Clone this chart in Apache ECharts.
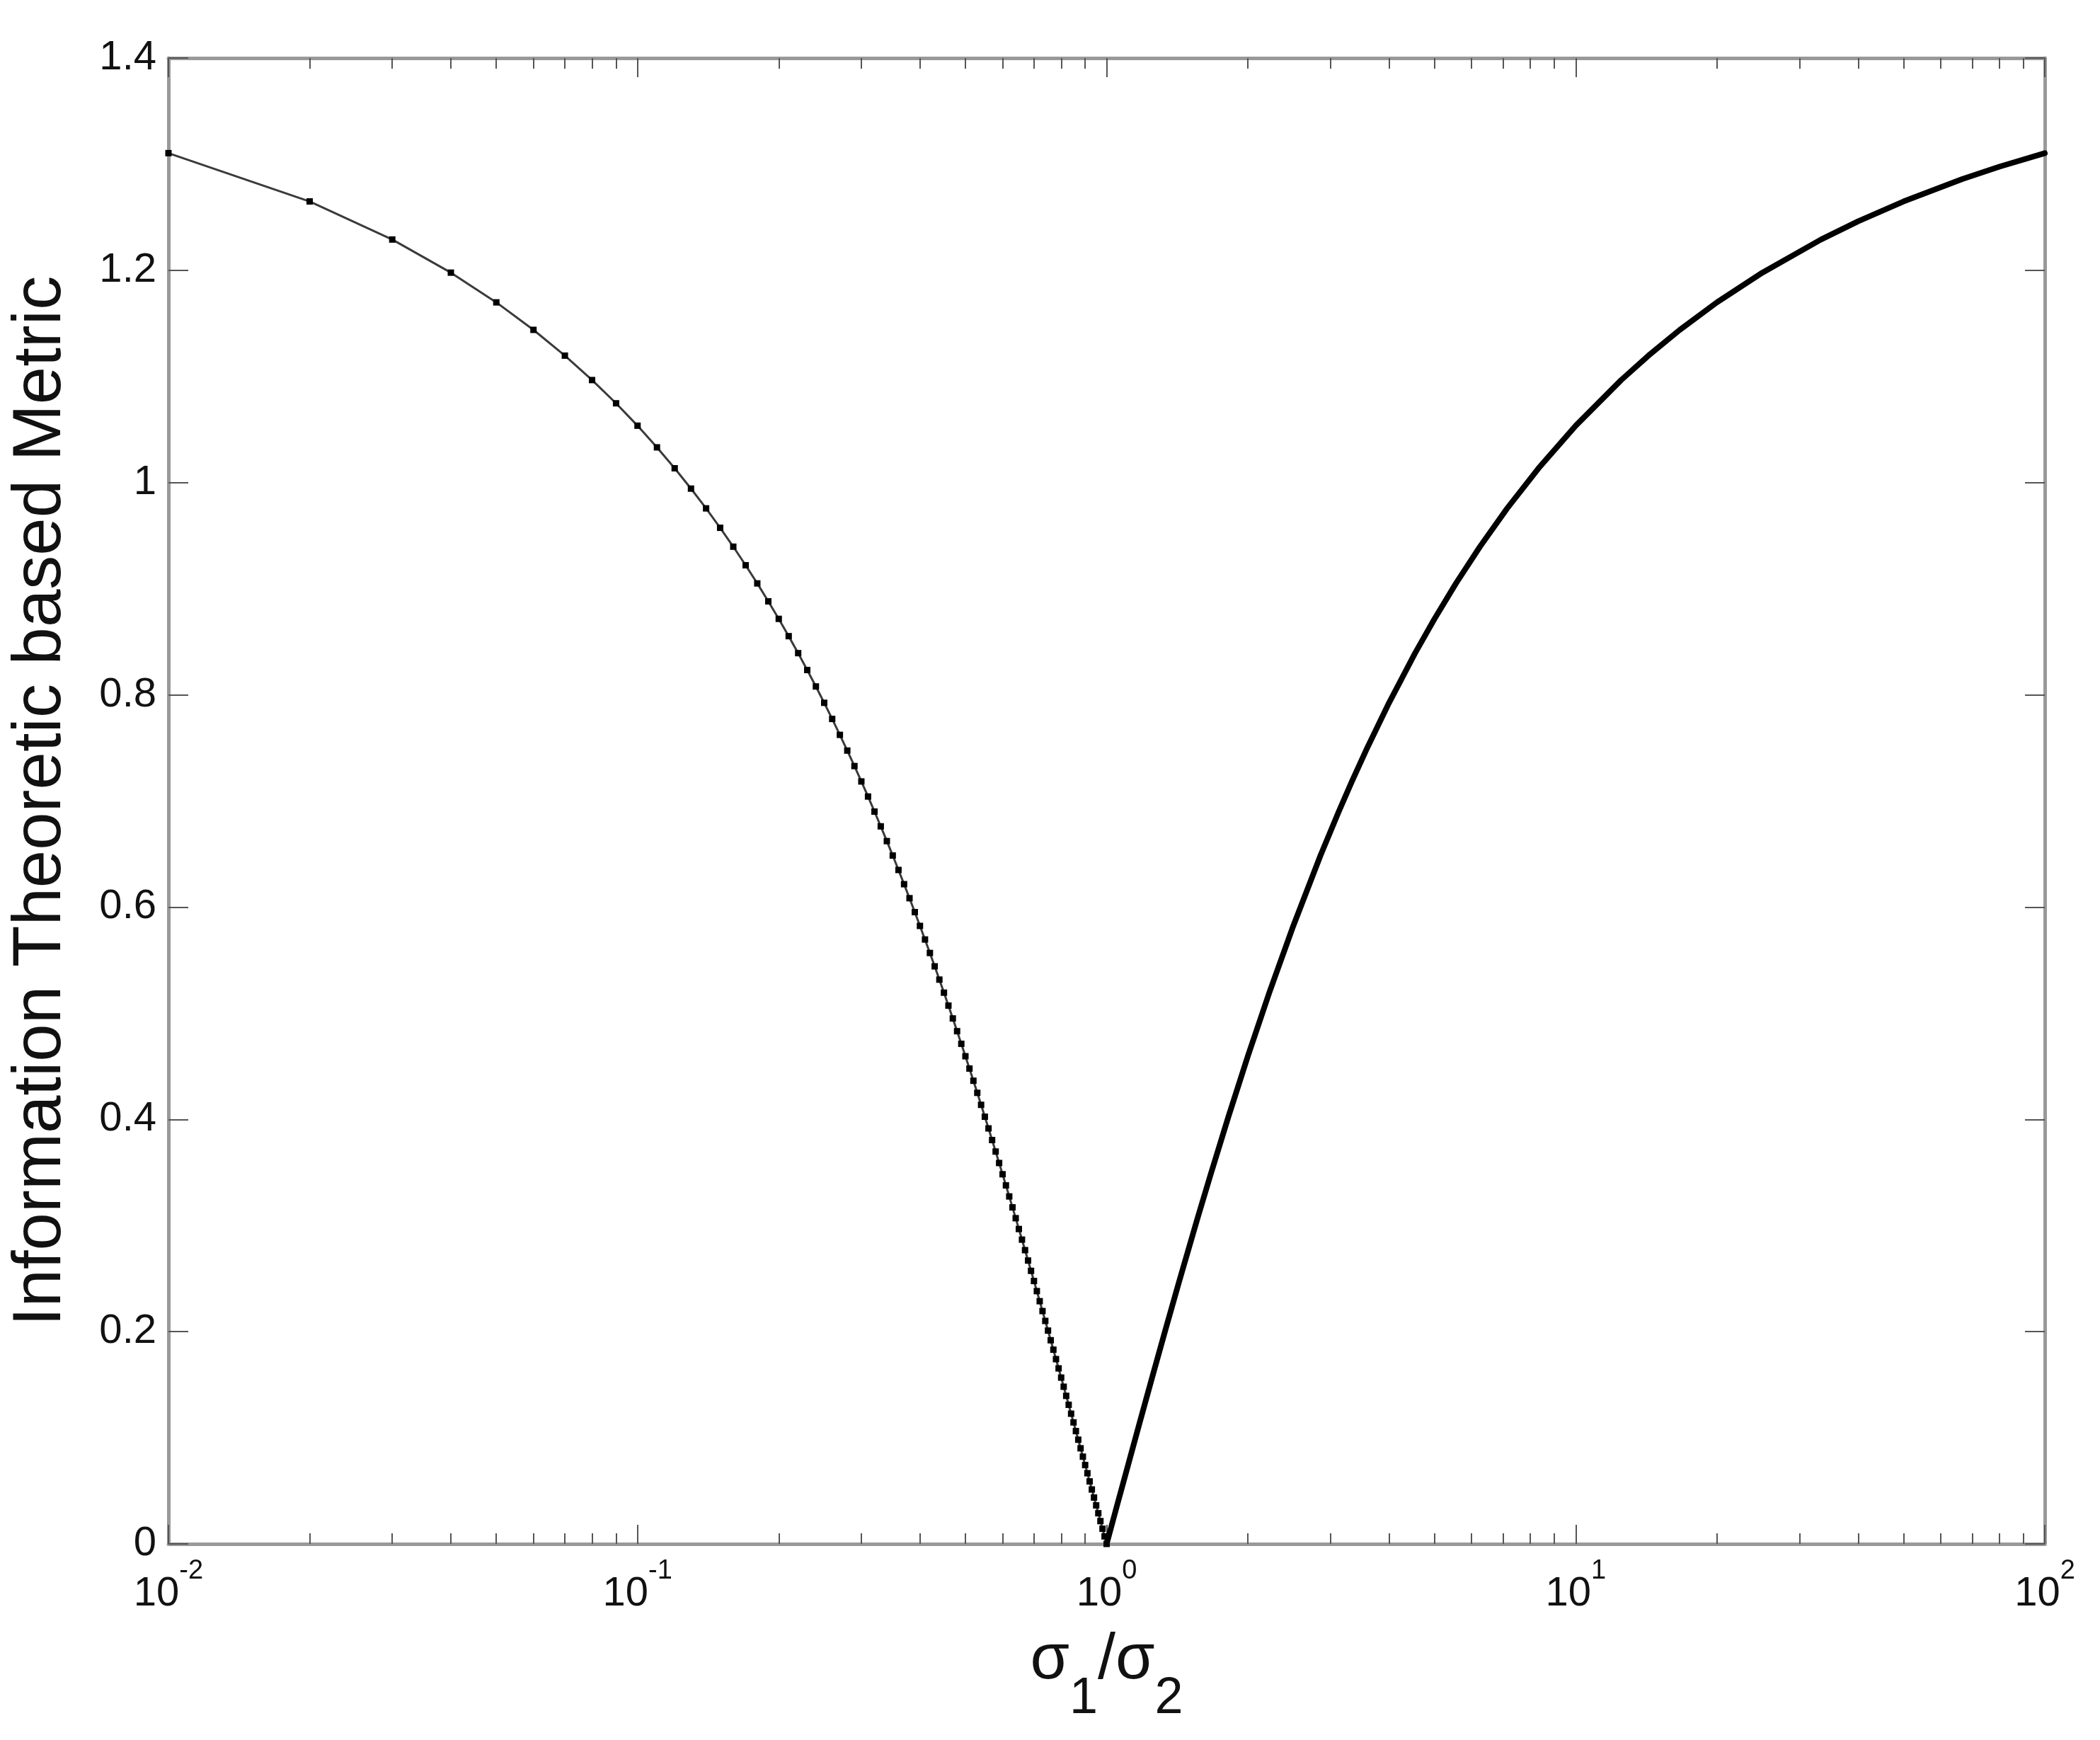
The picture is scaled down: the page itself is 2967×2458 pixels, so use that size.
<!DOCTYPE html>
<html>
<head>
<meta charset="utf-8">
<script src="https://cdn.jsdelivr.net/npm/echarts@6/dist/echarts.min.js"></script>
<style>
html,body{margin:0;padding:0;background:#fff;}
#chart{width:2967px;height:2458px;}
</style>
</head>
<body>
<div id="chart"></div>
<script>
// ---- data ----
const leftX = [0.01,0.02,0.03,0.04,0.05,0.06,0.07,0.08,0.09,0.10,
  0.11,0.12,0.13,0.14,0.15,0.16,0.17,0.18,0.19,0.20,
  0.21,0.22,0.23,0.24,0.25,0.26,0.27,0.28,0.29,0.30,
  0.31,0.32,0.33,0.34,0.35,0.36,0.37,0.38,0.39,0.40,
  0.41,0.42,0.43,0.44,0.45,0.46,0.47,0.48,0.49,0.50,
  0.51,0.52,0.53,0.54,0.55,0.56,0.57,0.58,0.59,0.60,
  0.61,0.62,0.63,0.64,0.65,0.66,0.67,0.68,0.69,0.70,
  0.71,0.72,0.73,0.74,0.75,0.76,0.77,0.78,0.79,0.80,
  0.81,0.82,0.83,0.84,0.85,0.86,0.87,0.88,0.89,0.90,
  0.91,0.92,0.93,0.94,0.95,0.96,0.97,0.98,0.99,1.00];
const leftY = [1.3104,1.2649,1.2290,1.1978,1.1698,1.1439,1.1196,1.0966,1.0747,1.0536,
  1.0332,1.0135,0.9943,0.9757,0.9574,0.9396,0.9221,0.9050,0.8881,0.8716,
  0.8553,0.8393,0.8234,0.8079,0.7925,0.7773,0.7623,0.7475,0.7329,0.7184,
  0.7042,0.6900,0.6761,0.6622,0.6486,0.6350,0.6216,0.6084,0.5953,0.5823,
  0.5695,0.5568,0.5442,0.5317,0.5194,0.5072,0.4951,0.4831,0.4712,0.4595,
  0.4479,0.4364,0.4250,0.4137,0.4025,0.3915,0.3805,0.3697,0.3589,0.3483,
  0.3378,0.3274,0.3171,0.3069,0.2967,0.2867,0.2768,0.2670,0.2573,0.2477,
  0.2382,0.2287,0.2194,0.2101,0.2010,0.1919,0.1830,0.1741,0.1654,0.1567,
  0.1481,0.1395,0.1311,0.1227,0.1145,0.1063,0.0982,0.0901,0.0822,0.0743,
  0.0666,0.0589,0.0513,0.0437,0.0363,0.0289,0.0215,0.0143,0.0071,0];
const rightX = [1,1.0101,1.0309,1.05263,1.1111,1.17647,1.25,1.3333,1.42857,1.5625,
  1.6667,1.81818,2,2.2222,2.5,2.857,3.125,3.3333,3.5714,4,
  4.5455,5,5.5556,6.25,7.1429,8.3333,10,12.5,14.286,16.667,
  20,25,33.333,40,50,66.667,80,100];
const rightY = [0,0.0071,0.0215,0.0363,0.0743,0.1145,0.1567,0.2010,0.2477,0.3069,
  0.3483,0.4025,0.4595,0.5194,0.5823,0.6486,0.6900,0.7184,0.7475,0.7925,
  0.8393,0.8716,0.9050,0.9396,0.9757,1.0135,1.0536,1.0966,1.1196,1.1439,
  1.1698,1.1978,1.2290,1.2462,1.2649,1.2859,1.2976,1.3104];
const xTickValues = [0.01,0.1,1,10,100];
const xTickExps = ['-2','-1','0','1','2'];
const xMinorTicks = [0.02,0.03,0.04,0.05,0.06,0.07,0.08,0.09,
  0.2,0.3,0.4,0.5,0.6,0.7,0.8,0.9,
  2,3,4,5,6,7,8,9,
  20,30,40,50,60,70,80,90];
const yTickValues = [0,0.2,0.4,0.6,0.8,1.0,1.2,1.4];
const yTickLabels = ['0','0.2','0.4','0.6','0.8','1','1.2','1.4'];
const xTitle = '{s|σ}{sub|1}{s|/σ}{sub|2}';
const yTitle = 'Information Theoretic based Metric';

// ---- chart ----
const FONT = "'Liberation Sans', Arial, Helvetica, sans-serif";
const AXIS_COLOR = '#999999';
const TICK_COLOR = '#555';

function xLabel(v){
  let best = 0, bd = Infinity;
  for (let i = 0; i < xTickValues.length; i++) {
    const d = Math.abs(Math.log10(xTickValues[i]) - Math.log10(v));
    if (d < bd) { bd = d; best = i; }
  }
  return '{b|10}{sup|' + xTickExps[best] + '}';
}
function yLabel(v){
  for (let i = 0; i < yTickValues.length; i++) {
    if (Math.abs(yTickValues[i] - v) < 1e-6) return yTickLabels[i];
  }
  return '';
}

const xBase = {
  type: 'log', logBase: 10, min: 0.01, max: 100, gridIndex: 0,
  splitLine: {show: false}, minorTick: {show: false}, minorSplitLine: {show: false}
};
const majorTick = {show: true, inside: true, length: 27, lineStyle: {color: TICK_COLOR, width: 2}};
const minorTickStyle = {show: true, inside: true, length: 15, customValues: xMinorTicks,
  lineStyle: {color: TICK_COLOR, width: 2}};

const chart = echarts.init(document.getElementById('chart'), null, {renderer: 'canvas'});
chart.setOption({
  animation: false,
  backgroundColor: '#ffffff',
  grid: {left: 238, right: 78, top: 82, bottom: 277, containLabel: false},
  xAxis: [
    Object.assign({}, xBase, {
      position: 'bottom',
      axisLine: {show: true, lineStyle: {color: AXIS_COLOR, width: 5}},
      axisTick: majorTick,
      axisLabel: {
        show: true, margin: 20, formatter: xLabel, color: '#111',
        rich: {
          b: {fontFamily: FONT, fontSize: 58, lineHeight: 80, verticalAlign: 'bottom', color: '#111'},
          sup: {fontFamily: FONT, fontSize: 38, lineHeight: 38, verticalAlign: 'top', color: '#111'}
        }
      },
      name: xTitle, nameLocation: 'middle', nameGap: 120,
      nameTextStyle: {
        color: '#111',
        rich: {
          s: {fontFamily: FONT, fontSize: 90, lineHeight: 90, verticalAlign: 'top', color: '#111'},
          sub: {fontFamily: FONT, fontSize: 72, lineHeight: 72, verticalAlign: 'top',
                padding: [63, 0, 0, 0], color: '#111'}
        }
      }
    }),
    Object.assign({}, xBase, {
      position: 'bottom', axisLine: {show: false}, axisLabel: {show: false},
      axisTick: minorTickStyle
    }),
    Object.assign({}, xBase, {
      position: 'top',
      axisLine: {show: true, lineStyle: {color: AXIS_COLOR, width: 5}},
      axisTick: majorTick, axisLabel: {show: false}
    }),
    Object.assign({}, xBase, {
      position: 'top', axisLine: {show: false}, axisLabel: {show: false},
      axisTick: minorTickStyle
    })
  ],
  yAxis: [
    {
      type: 'value', min: 0, max: 1.4, interval: 0.2, position: 'left',
      splitLine: {show: false},
      axisLine: {show: true, onZero: false, lineStyle: {color: AXIS_COLOR, width: 5}},
      axisTick: {show: true, inside: true, length: 28, lineStyle: {color: TICK_COLOR, width: 2}},
      axisLabel: {show: true, margin: 17, formatter: yLabel, fontFamily: FONT, fontSize: 58, color: '#111'},
      name: yTitle, nameLocation: 'middle', nameGap: 131, nameRotate: 90,
      nameTextStyle: {fontFamily: FONT, fontSize: 96, color: '#111'}
    },
    {
      type: 'value', min: 0, max: 1.4, interval: 0.2, position: 'right',
      splitLine: {show: false},
      axisLine: {show: true, onZero: false, lineStyle: {color: AXIS_COLOR, width: 5}},
      axisTick: {show: true, inside: true, length: 28, lineStyle: {color: TICK_COLOR, width: 2}},
      axisLabel: {show: false}
    }
  ],
  series: [
    {
      type: 'line', xAxisIndex: 0, yAxisIndex: 0, clip: false,
      data: leftX.map((x, i) => [x, leftY[i]]),
      symbol: 'rect', symbolSize: 9, showSymbol: true,
      itemStyle: {color: '#000'},
      lineStyle: {color: '#3a3a3a', width: 3},
      emphasis: {disabled: true}, z: 3
    },
    {
      type: 'line', xAxisIndex: 0, yAxisIndex: 0, clip: false,
      data: rightX.map((x, i) => [x, rightY[i]]),
      symbol: 'none',
      lineStyle: {color: '#000', width: 8, join: 'round', cap: 'round'},
      emphasis: {disabled: true}, z: 3
    }
  ]
});
</script>
</body>
</html>
